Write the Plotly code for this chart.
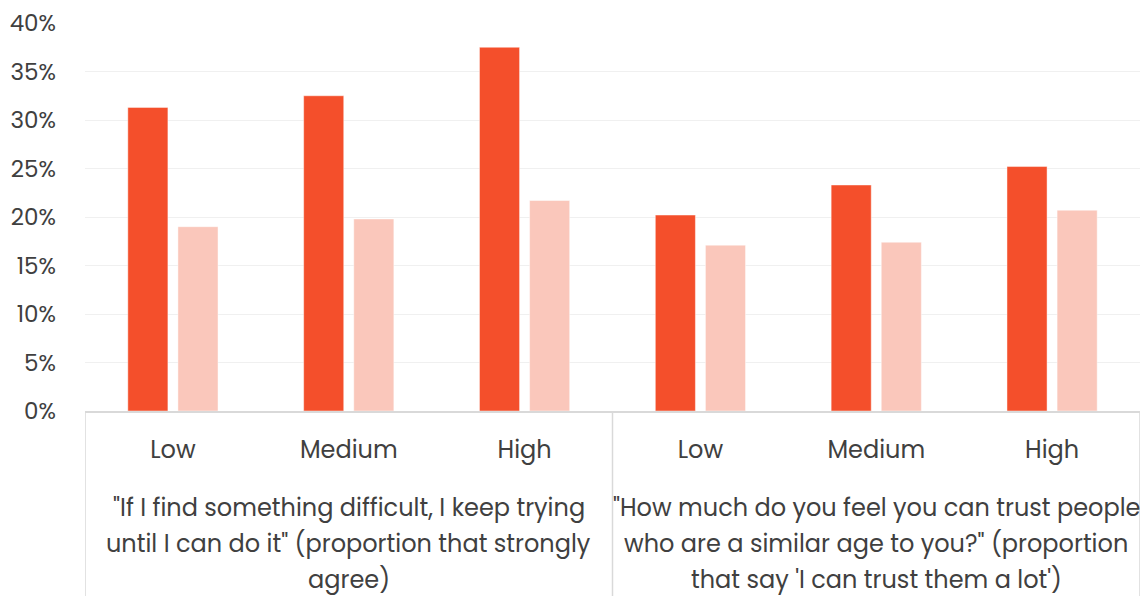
import plotly.graph_objects as go

# Response levels shown under each bar pair
levels = ["Low", "Medium", "High"]

# Survey questions, one entry per line of the group caption
question_1 = [
    "\"If I find something difficult, I keep trying",
    "until I can do it\" (proportion that strongly",
    "agree)",
]
question_2 = [
    "\"How much do you feel you can trust people",
    "who are a similar age to you?\" (proportion",
    "that say 'I can trust them a lot')",
]
questions = [question_1, question_2]

# Proportions (%) for the two series, question 1 levels then question 2 levels
series_a = [31.3, 32.5, 37.5, 20.2, 23.3, 25.2]
series_b = [19.0, 19.8, 21.7, 17.1, 17.4, 20.7]

y_ticks = [0, 5, 10, 15, 20, 25, 30, 35, 40]
y_labels = [f"{v}%" for v in y_ticks]

n_levels = len(levels)
positions = list(range(n_levels * len(questions)))
tick_text = levels * len(questions)

fig = go.Figure()
fig.add_trace(go.Bar(
    x=positions, y=series_a, name="A",
    marker=dict(color="#F44F2B", line=dict(color="rgba(255,255,255,0.45)", width=1)),
))
fig.add_trace(go.Bar(
    x=positions, y=series_b, name="B",
    marker=dict(color="#FAC7BB", line=dict(color="rgba(255,255,255,0.45)", width=1)),
))

font_family = "Poppins, 'Open Sans', sans-serif"
text_color = "#404040"
frame_color = "#D9D9D9"

# Group frame: vertical dividers hanging below the axis line
frame_bottom = -0.48
for edge in [-0.5 + k * n_levels for k in range(len(questions) + 1)]:
    fig.add_shape(
        type="line", xref="x", yref="paper",
        x0=edge, x1=edge, y0=0, y1=frame_bottom,
        line=dict(color=frame_color, width=1.5), layer="above",
    )

# Multi-line question captions centred under each group
line_y = [-0.248, -0.341, -0.434]
for k, lines in enumerate(questions):
    centre = k * n_levels + (n_levels - 1) / 2
    for text, yy in zip(lines, line_y):
        fig.add_annotation(
            x=centre, xref="x", y=yy, yref="paper",
            text=text, showarrow=False,
            xanchor="center", yanchor="middle",
            font=dict(family=font_family, size=24, color=text_color),
        )

fig.update_layout(
    width=1146, height=596,
    margin=dict(l=85, r=6, t=23, b=185),
    paper_bgcolor="white", plot_bgcolor="white",
    barmode="group", bargap=0.43, bargroupgap=0.2,
    showlegend=False,
    font=dict(family=font_family, size=22, color=text_color),
)
fig.update_xaxes(
    range=[-0.5, len(positions) - 0.5],
    tickvals=positions, ticktext=tick_text,
    showline=True, linecolor=frame_color, linewidth=1.5,
    ticks="", showgrid=False, zeroline=False,
    ticklabelstandoff=16,
    tickfont=dict(family=font_family, size=24, color=text_color),
)
fig.update_yaxes(
    range=[0, 40], tickvals=y_ticks, ticktext=y_labels,
    showgrid=True, gridcolor="#F0F0F0", gridwidth=1,
    zeroline=False, showline=False, ticks="",
    ticklabelstandoff=28,
    tickfont=dict(family=font_family, size=23, color=text_color),
)

fig.write_html("out.html")
